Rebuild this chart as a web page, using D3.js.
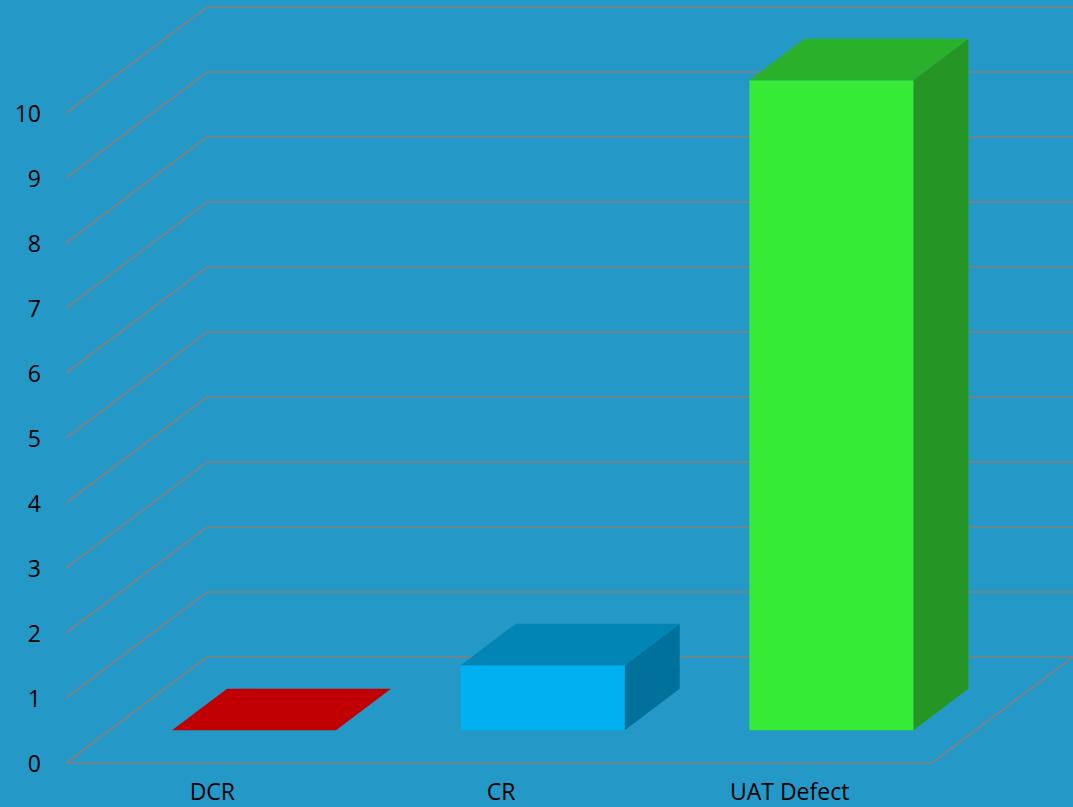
<!DOCTYPE html>
<html>
<head>
<meta charset="utf-8">
<script src="https://cdn.jsdelivr.net/npm/d3@7"></script>
<style>
html,body{margin:0;padding:0;background:#2499c7;}
svg{display:block;}
</style>
</head>
<body>
<svg id="chart" width="1073" height="807"></svg>
<script>
const categories = ["DCR", "CR", "UAT Defect"];
const values = [0, 1, 10];
const yTicks = [0,1,2,3,4,5,6,7,8,9,10];
const frontColors = ["#c00000", "#00b0f0", "#35eb35"];
const topColors = ["#c00000", "#0085b5", "#2ab02a"];
const sideColors = ["#a00000", "#00719b", "#259625"];

const W = 1073, H = 807;
const svg = d3.select("#chart");
svg.append("rect").attr("width", W).attr("height", H).attr("fill", "#2499c7");

const x0 = 66, x1 = 932;
const depth = {dx: 141, dy: -106};
const x = d3.scaleBand().domain(categories).range([x0, x1]).paddingInner(0).paddingOuter(0);
const y = d3.scaleLinear().domain([0, 10]).range([763, 113]);

const grid = svg.append("g").attr("fill", "none").attr("stroke", "#808080").attr("stroke-width", 1.6);
yTicks.forEach(v => {
  const yy = y(v);
  grid.append("path").attr("d",
    `M${x0},${yy} L${x0 + depth.dx},${yy + depth.dy} L${W},${yy + depth.dy}`);
});
// floor front edge and right edge
grid.append("path").attr("d",
  `M${x0},${y(0)} L${x1},${y(0)} L${x1 + depth.dx},${y(0) + depth.dy}`);

// y labels
svg.append("g").selectAll("text").data(yTicks).join("text")
  .attr("x", 41).attr("y", d => y(d))
  .attr("text-anchor", "end").attr("dominant-baseline", "central")
  .attr("font-family", "Open Sans, sans-serif").attr("font-size", 23)
  .attr("fill", "#000").text(d => d);

// category labels
svg.append("g").selectAll("text").data(categories).join("text")
  .attr("x", d => x(d) + x.bandwidth() / 2 + 2).attr("y", 800)
  .attr("text-anchor", "middle")
  .attr("font-family", "Open Sans, sans-serif").attr("font-size", 23)
  .attr("fill", "#000").text(d => d);

// bars
const f1 = 0.31, f2 = 0.70;
const barW = 164;
const bars = svg.append("g");
categories.forEach((c, i) => {
  const v = values[i];
  const cx = x(c) + x.bandwidth() / 2;
  const ox = f1 * depth.dx, oy = f1 * depth.dy;
  const bx = (f2 - f1) * depth.dx, by = (f2 - f1) * depth.dy;
  const L = cx - barW / 2 + ox, R = cx + barW / 2 + ox;
  const B = y(0) + oy, T = y(v) + oy;
  const g = bars.append("g");
  if (v > 0) {
    g.append("path").attr("fill", sideColors[i])
      .attr("d", `M${R},${B} L${R + bx},${B + by} L${R + bx},${T + by} L${R},${T} Z`);
    g.append("path").attr("fill", frontColors[i])
      .attr("d", `M${L},${B} L${R},${B} L${R},${T} L${L},${T} Z`);
  }
  g.append("path").attr("fill", topColors[i])
    .attr("d", `M${L},${T} L${R},${T} L${R + bx},${T + by} L${L + bx},${T + by} Z`);
});
</script>
</body>
</html>
